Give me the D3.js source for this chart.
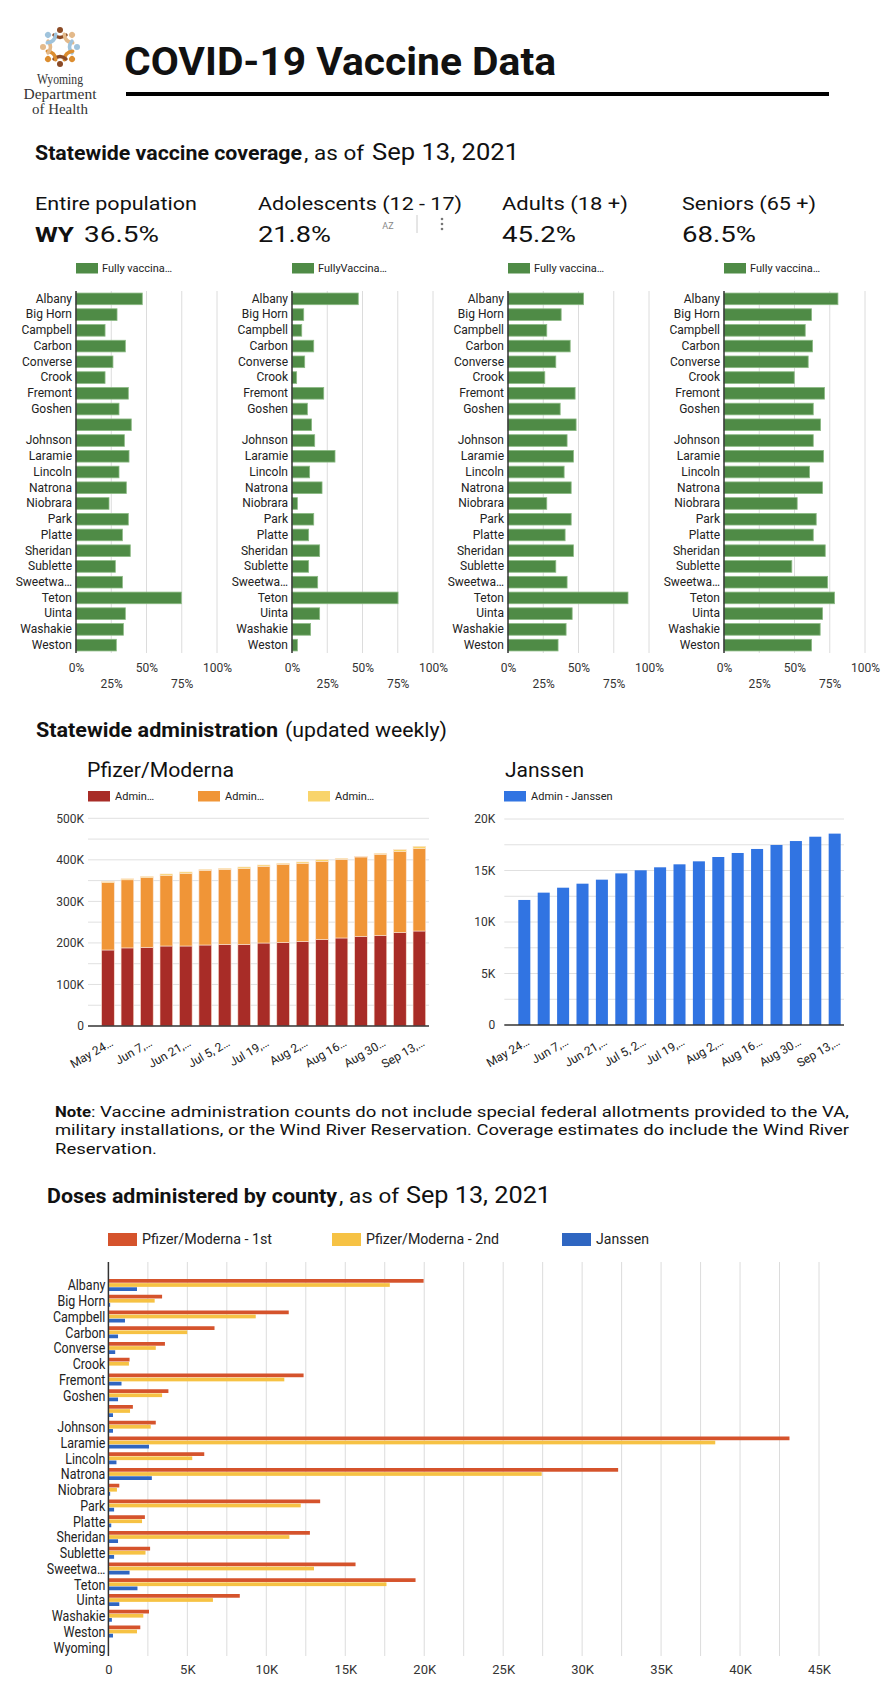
<!DOCTYPE html>
<html>
<head>
<meta charset="utf-8">
<script src="https://d3js.org/d3.v7.min.js"></script>
<style>
  body { margin: 0; background: #fff; }
  svg text { font-family: Roboto, "Noto Sans", sans-serif; }
</style>
</head>
<body>
<svg id="page" width="890" height="1700"></svg>
<script>
// ---- data ----
var counties = ["Albany","Big Horn","Campbell","Carbon","Converse","Crook","Fremont","Goshen","","Johnson","Laramie","Lincoln","Natrona","Niobrara","Park","Platte","Sheridan","Sublette","Sweetwa…","Teton","Uinta","Washakie","Weston"];

var coverageGroups = ["Entire population","Adolescents (12 - 17)","Adults (18 +)","Seniors (65 +)"];
var coverageTotals = ["36.5%","21.8%","45.2%","68.5%"];
var coverageLegend = ["Fully vaccina…","FullyVaccina…","Fully vaccina…","Fully vaccina…"];

var fullyEntire     = [0.470,0.291,0.206,0.350,0.262,0.206,0.371,0.305,0.392,0.343,0.376,0.305,0.357,0.234,0.371,0.329,0.385,0.279,0.329,0.747,0.350,0.336,0.286];
var fullyAdolescent = [0.470,0.083,0.069,0.154,0.090,0.033,0.225,0.109,0.139,0.161,0.305,0.125,0.213,0.038,0.154,0.118,0.196,0.118,0.182,0.752,0.196,0.132,0.038];
var fullyAdult      = [0.536,0.377,0.275,0.441,0.339,0.261,0.476,0.370,0.483,0.419,0.464,0.398,0.448,0.275,0.448,0.405,0.464,0.339,0.419,0.851,0.455,0.412,0.355];
var fullySenior     = [0.808,0.621,0.576,0.628,0.597,0.498,0.713,0.633,0.685,0.633,0.706,0.607,0.699,0.519,0.654,0.633,0.718,0.481,0.735,0.784,0.699,0.682,0.621];

var weeks = ["May 24, 2021","May 31, 2021","Jun 7, 2021","Jun 14, 2021","Jun 21, 2021","Jun 28, 2021","Jul 5, 2021","Jul 12, 2021","Jul 19, 2021","Jul 26, 2021","Aug 2, 2021","Aug 9, 2021","Aug 16, 2021","Aug 23, 2021","Aug 30, 2021","Sep 6, 2021","Sep 13, 2021"];
var weekTicks = ["May 24…","Jun 7,…","Jun 21,…","Jul 5, 2…","Jul 19,…","Aug 2,…","Aug 16…","Aug 30…","Sep 13,…"];
var adminLegend = ["Admin…","Admin…","Admin…"];
var adminDose1 = [183000,188000,189500,192600,192600,195000,196600,196600,199800,201400,203900,208700,211900,215900,218300,225500,228700];
var adminDose2 = [162000,164000,167500,169400,174200,179800,180400,182200,184600,187800,187800,187800,189400,191000,195000,194200,198300];
var adminDose3 = [2500,2500,3000,4000,4000,2200,2600,4000,3200,2500,3200,4000,2400,1600,2400,4900,5600];
var adminJanssen = [12140,12850,13330,13720,14110,14720,15020,15310,15600,15890,16310,16700,17090,17480,17860,18280,18580];

var doseCounties = counties.concat(["Wyoming"]);
var doseSeries = ["Pfizer/Moderna - 1st","Pfizer/Moderna - 2nd","Janssen"];
var dosePM1 = [19960,3400,11420,6720,3580,1340,12360,3800,1550,3000,43130,6070,32280,690,13410,2310,12760,2640,15650,19450,8320,2570,2020,0];
var dosePM2 = [17820,2930,9330,4990,3000,1300,11140,3400,1370,2680,38430,5310,27440,540,12180,2130,11460,2350,13020,17610,6620,2210,1810,0];
var doseJan = [1810,110,1050,610,430,40,830,610,290,290,2570,510,2750,110,360,180,610,360,1340,1840,690,220,290,0];

var svg = d3.select("#page");
svg.append("rect").attr("width", 890).attr("height", 1700).attr("fill", "#fff");

function label(x, y, s, size, weight, width, anchor) {
    var t = svg.append("text")
        .attr("x", x).attr("y", y)
        .attr("font-size", size)
        .attr("font-weight", weight || "normal")
        .attr("fill", "#111")
        .attr("text-anchor", anchor || "start")
        .text(s);
    if (width) t.attr("textLength", width).attr("lengthAdjust", "spacingAndGlyphs");
    return t;
}

function kfmt(d) { return d === 0 ? "0" : (d / 1000) + "K"; }

// ---- header ----
var logo = svg.append("g").attr("transform", "translate(60,47)");
var figColors = ["#8b4a25","#e3b98a","#9fc3dc","#dc8d2f","#8b4a25","#dc8d2f","#e3b98a","#9fc3dc"];
figColors.forEach(function(c, i) {
    var g = logo.append("g").attr("transform", "rotate(" + (i * 45 - 90) + ")");
    g.append("circle").attr("cx", 17).attr("cy", 0).attr("r", 3).attr("fill", c);
    g.append("path").attr("d", "M12,-6 Q7,0 12,6")
        .attr("stroke", c).attr("stroke-width", 3.5)
        .attr("fill", "none").attr("stroke-linecap", "round");
});
[["Wyoming", 84, 46], ["Department", 99, 73], ["of Health", 114, 56]].forEach(function(l) {
    svg.append("text").attr("x", 60).attr("y", l[1])
        .attr("text-anchor", "middle")
        .style("font-family", "'Liberation Serif', 'DejaVu Serif', serif")
        .attr("font-size", 15).attr("fill", "#333")
        .attr("textLength", l[2]).attr("lengthAdjust", "spacingAndGlyphs")
        .text(l[0]);
});
label(124, 75, "COVID-19 Vaccine Data", 39, "bold", 432);
svg.append("line").attr("x1", 126).attr("x2", 829).attr("y1", 94).attr("y2", 94)
    .attr("stroke", "#000").attr("stroke-width", 4);

// ---- coverage ----
label(35, 160, "Statewide vaccine coverage", 20, "bold", 267);
label(304, 160, ", as of", 20, "normal", 60);
label(372, 160, "Sep 13, 2021", 23, "normal", 147);

var headX = [35, 258, 502, 682];
var headW = [162, 204, 126, 134];
var totW = [75, 73, 74, 74];
coverageGroups.forEach(function(g, i) {
    label(headX[i], 210, g, 19, "normal", headW[i]);
    if (i === 0) {
        label(35, 242, "WY", 21, "bold", 39);
        label(84, 242, coverageTotals[i], 22, "normal", totW[i]);
    } else {
        label(headX[i], 242, coverageTotals[i], 22, "normal", totW[i]);
    }
});
// sort / menu icons that sit in the screenshot
svg.append("text").attr("x", 388).attr("y", 229).attr("text-anchor", "middle")
    .attr("font-size", 9).attr("fill", "#888").text("AZ");
svg.append("line").attr("x1", 417).attr("x2", 417).attr("y1", 215).attr("y2", 233)
    .attr("stroke", "#ccc");
[219, 224, 229].forEach(function(cy) {
    svg.append("circle").attr("cx", 442).attr("cy", cy).attr("r", 1.3).attr("fill", "#777");
});

function coverageChart(i, values) {
    var x0 = 76 + i * 216;
    var x = d3.scaleLinear().domain([0, 1]).range([x0, x0 + 141]);
    var y = d3.scaleBand().domain(d3.range(counties.length))
        .range([291, 653]).paddingInner(0.26).paddingOuter(0.13);
    var g = svg.append("g");

    g.append("rect").attr("x", x0).attr("y", 263).attr("width", 22).attr("height", 10.5)
        .attr("fill", "#4f8b46");
    g.append("text").attr("x", x0 + 26).attr("y", 272).attr("font-size", 11)
        .attr("fill", "#222").text(coverageLegend[i]);

    g.selectAll(".grid").data([0.25, 0.5, 0.75, 1]).enter().append("line")
        .attr("x1", x).attr("x2", x).attr("y1", 291).attr("y2", 653)
        .attr("stroke", "#dcdcdc");

    g.selectAll(".bar").data(values).enter().append("rect")
        .attr("x", x(0))
        .attr("y", function(d, j) { return y(j); })
        .attr("width", function(d) { return x(d) - x(0); })
        .attr("height", y.bandwidth())
        .attr("fill", "#4f8b46")
        .attr("stroke", "#8cba84").attr("stroke-width", 0.8);

    var ya = g.append("g").attr("transform", "translate(" + x0 + ",0)")
        .call(d3.axisLeft(y).tickFormat(function(j) { return counties[j]; }).tickSize(0).tickPadding(4));
    ya.select(".domain").remove();
    ya.selectAll("text").attr("font-size", 12).attr("fill", "#222").style("font-family", "Roboto");

    var xa = g.append("g").attr("transform", "translate(0,653)")
        .call(d3.axisBottom(x).tickValues([0, 0.25, 0.5, 0.75, 1]).tickFormat(d3.format(".0%")).tickSize(0));
    xa.select(".domain").remove();
    xa.selectAll("text").attr("font-size", 12).attr("fill", "#333").attr("dy", 0)
        .style("font-family", "Roboto")
        .attr("y", function(d, j) { return j % 2 ? 35 : 19; });

    g.append("line").attr("x1", x0).attr("x2", x0).attr("y1", 291).attr("y2", 653)
        .attr("stroke", "#333").attr("stroke-width", 1.5);
}
coverageChart(0, fullyEntire);
coverageChart(1, fullyAdolescent);
coverageChart(2, fullyAdult);
coverageChart(3, fullySenior);

// ---- administration ----
label(36, 737, "Statewide administration", 21, "bold", 242);
label(285, 737, "(updated weekly)", 21, "normal", 162);

label(87, 777, "Pfizer/Moderna", 21, "normal", 147);
label(505, 777, "Janssen", 21, "normal", 79);

var adminColors = ["#a82c27", "#f09537", "#f9d46b"];
adminLegend.forEach(function(t, i) {
    svg.append("rect").attr("x", 88 + i * 110).attr("y", 791).attr("width", 22).attr("height", 10.5)
        .attr("fill", adminColors[i]);
    svg.append("text").attr("x", 115 + i * 110).attr("y", 800).attr("font-size", 11)
        .attr("fill", "#222").text(t);
});
svg.append("rect").attr("x", 504).attr("y", 791).attr("width", 22).attr("height", 10.5).attr("fill", "#3174e2");
svg.append("text").attr("x", 531).attr("y", 800).attr("font-size", 11).attr("fill", "#222").text("Admin - Janssen");

function weekAxis(g, xs, y0) {
    var tickWeeks = weeks.filter(function(d, i) { return i % 2 === 0; });
    var xa = g.append("g").attr("transform", "translate(0," + y0 + ")")
        .call(d3.axisBottom(xs).tickValues(tickWeeks)
            .tickFormat(function(d, i) { return weekTicks[i]; }).tickSize(0));
    xa.select(".domain").remove();
    xa.selectAll("text").attr("font-size", 12).attr("fill", "#222").style("font-family", "Roboto")
        .attr("y", 0).attr("dy", 0)
        .attr("text-anchor", "end")
        .attr("transform", "translate(6,19) rotate(-30)");
}

// Pfizer / Moderna stacked
var pfData = weeks.map(function(w, i) {
    return { week: w, d1: adminDose1[i], d2: adminDose2[i], d3: adminDose3[i] };
});
var stack = d3.stack().keys(["d1", "d2", "d3"])(pfData);
var xP = d3.scaleBand().domain(weeks).range([98.3, 429]).paddingInner(0.35).paddingOuter(0.17);
var yP = d3.scaleLinear().domain([0, 500000]).range([1026, 818.3]);
var gP = svg.append("g");
gP.selectAll(".grid").data(d3.range(50000, 500001, 50000)).enter().append("line")
    .attr("x1", 88).attr("x2", 429).attr("y1", yP).attr("y2", yP)
    .attr("stroke", "#e0e0e0");
stack.forEach(function(s, k) {
    gP.selectAll(".s" + k).data(s).enter().append("rect")
        .attr("x", function(d) { return xP(d.data.week); })
        .attr("y", function(d) { return yP(d[1]); })
        .attr("width", xP.bandwidth())
        .attr("height", function(d) { return yP(d[0]) - yP(d[1]); })
        .attr("fill", adminColors[k])
        .attr("stroke", "#fbe3d0").attr("stroke-width", 0.6);
});
var yPa = gP.append("g").attr("transform", "translate(88,0)")
    .call(d3.axisLeft(yP).tickValues(d3.range(0, 500001, 100000)).tickFormat(kfmt).tickSize(0).tickPadding(4));
yPa.select(".domain").remove();
yPa.selectAll("text").attr("font-size", 12).attr("fill", "#333").style("font-family", "Roboto");
gP.append("line").attr("x1", 88).attr("x2", 429).attr("y1", 1026).attr("y2", 1026)
    .attr("stroke", "#333").attr("stroke-width", 1.5);
weekAxis(gP, xP, 1026);

// Janssen
var xJ = d3.scaleBand().domain(weeks).range([515, 844]).paddingInner(0.38).paddingOuter(0.17);
var yJ = d3.scaleLinear().domain([0, 20000]).range([1025, 819]);
var gJ = svg.append("g");
gJ.selectAll(".grid").data(d3.range(2500, 20001, 2500)).enter().append("line")
    .attr("x1", 504.3).attr("x2", 844).attr("y1", yJ).attr("y2", yJ)
    .attr("stroke", "#e0e0e0");
gJ.selectAll(".bar").data(adminJanssen).enter().append("rect")
    .attr("x", function(d, i) { return xJ(weeks[i]); })
    .attr("y", function(d) { return yJ(d); })
    .attr("width", xJ.bandwidth())
    .attr("height", function(d) { return yJ(0) - yJ(d); })
    .attr("fill", "#3174e2");
var yJa = gJ.append("g").attr("transform", "translate(504.3,0)")
    .call(d3.axisLeft(yJ).tickValues(d3.range(0, 20001, 5000)).tickFormat(kfmt).tickSize(0).tickPadding(9));
yJa.select(".domain").remove();
yJa.selectAll("text").attr("font-size", 12).attr("fill", "#333").style("font-family", "Roboto");
gJ.append("line").attr("x1", 504.3).attr("x2", 844).attr("y1", 1025).attr("y2", 1025)
    .attr("stroke", "#333").attr("stroke-width", 1.5);
weekAxis(gJ, xJ, 1025);

// ---- note ----
label(55, 1117, "Note", 15, "bold", 36);
label(91, 1117, ": Vaccine administration counts do not include special federal allotments provided to the VA,", 15, "normal", 758);
label(55, 1135, "military installations, or the Wind River Reservation. Coverage estimates do include the Wind River", 15, "normal", 794);
label(55, 1154, "Reservation.", 15, "normal", 102);

// ---- doses by county ----
label(47, 1203, "Doses administered by county", 21, "bold", 290);
label(339, 1203, ", as of", 21, "normal", 60);
label(406, 1203, "Sep 13, 2021", 23, "normal", 145);

var doseColors = ["#d5532c", "#f6c244", "#2f66c1"];
var legX = [108, 332, 562], legW = [130, 133, 53];
doseSeries.forEach(function(s, i) {
    svg.append("rect").attr("x", legX[i]).attr("y", 1233).attr("width", 29).attr("height", 13)
        .attr("fill", doseColors[i]);
    label(legX[i] + 34, 1244, s, 14, "normal", legW[i]).attr("fill", "#222");
});

var xD = d3.scaleLinear().domain([0, 45000]).range([108.4, 819]);
var yD = d3.scaleBand().domain(d3.range(doseCounties.length)).range([1278, 1656]);
var inner = d3.scaleBand().domain([0, 1, 2]).range([1, 13]).paddingInner(0.1);
var gD = svg.append("g");
gD.selectAll(".grid").data(d3.range(2500, 45001, 2500)).enter().append("line")
    .attr("x1", xD).attr("x2", xD).attr("y1", 1262).attr("y2", 1656)
    .attr("stroke", "#dcdcdc");
[dosePM1, dosePM2, doseJan].forEach(function(vals, k) {
    gD.selectAll(".d" + k).data(vals).enter().append("rect")
        .attr("x", xD(0))
        .attr("y", function(d, i) { return yD(i) + inner(k); })
        .attr("width", function(d) { return xD(d) - xD(0); })
        .attr("height", inner.bandwidth())
        .attr("fill", doseColors[k]);
});
var yDa = gD.append("g").attr("transform", "translate(108.4,0)")
    .call(d3.axisLeft(yD).tickFormat(function(i) { return doseCounties[i]; }).tickSize(0).tickPadding(3));
yDa.select(".domain").remove();
yDa.selectAll("text").attr("font-size", 14).attr("fill", "#222").style("font-family", "Roboto")
    .each(function() {
        var w = this.getComputedTextLength();
        if (w > 0) d3.select(this).attr("textLength", w * 0.89).attr("lengthAdjust", "spacingAndGlyphs");
    });
var xDa = gD.append("g").attr("transform", "translate(0,1656)")
    .call(d3.axisBottom(xD).tickValues(d3.range(0, 45001, 5000)).tickFormat(kfmt).tickSize(0));
xDa.select(".domain").remove();
xDa.selectAll("text").attr("font-size", 13).attr("fill", "#333").style("font-family", "Roboto")
    .attr("y", 18).attr("dy", 0);
gD.append("line").attr("x1", 108.4).attr("x2", 108.4).attr("y1", 1262).attr("y2", 1656)
    .attr("stroke", "#333").attr("stroke-width", 1.5);
</script>
</body>
</html>
